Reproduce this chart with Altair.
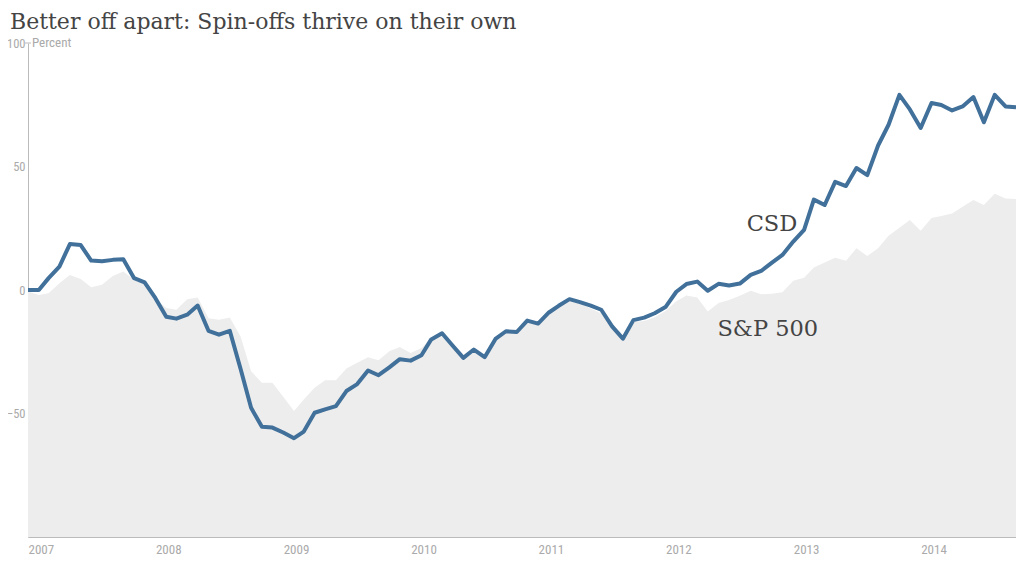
import altair as alt
import pandas as pd

# Monthly cumulative return (%) Jan 2007 - Oct 2014
csd = [0.0, 0.0, 4.8, 9.5, 18.6, 18.2, 11.9, 11.6, 12.2, 12.4, 4.8, 3.1,
       -3.3, -10.8, -11.6, -10.0, -6.3, -16.5, -18.1, -16.5, -32.0, -47.7, -55.4, -55.7,
       -57.7, -60.0, -57.3, -49.7, -48.3, -47.0, -40.9, -38.1, -32.6, -34.5, -31.3, -28.0,
       -28.6, -26.4, -20.0, -17.5, -22.5, -27.5, -24.1, -27.2, -19.8, -16.7, -17.0, -12.4,
       -13.6, -9.1, -6.4, -3.7, -4.9, -6.3, -8.0, -14.7, -19.7, -12.2, -11.2, -9.4,
       -6.9, -0.7, 2.4, 3.4, -0.3, 2.5, 1.8, 2.6, 6.1, 7.7, 11.1, 14.2,
       19.6, 24.3, 36.6, 34.4, 43.8, 42.1, 49.4, 46.5, 58.5, 66.9, 79.0, 73.1,
       65.6, 75.7, 74.9, 72.7, 74.3, 78.1, 67.9, 79.0, 74.3, 74.0]
sp500 = [-0.6, -2.0, -1.3, 2.7, 6.1, 4.5, 1.1, 2.1, 5.7, 7.5, 4.1, 2.7,
         -3.5, -7.3, -8.0, -3.7, -3.0, -11.4, -12.0, -11.1, -18.8, -32.9, -37.6, -37.6,
         -43.2, -49.0, -44.3, -39.6, -36.5, -36.5, -31.8, -29.5, -27.2, -28.4, -24.8, -23.1,
         -25.5, -23.5, -19.5, -17.5, -22.5, -27.0, -23.5, -26.5, -19.5, -16.3, -16.5, -12.0,
         -12.5, -8.5, -6.0, -4.0, -5.5, -7.5, -9.5, -15.5, -20.0, -13.0, -12.5, -11.0,
         -8.5, -4.6, -2.2, -3.0, -8.7, -5.3, -4.0, -2.3, -0.3, -1.7, -1.5, -0.9,
         3.7, 5.0, 9.1, 11.1, 13.1, 11.8, 16.9, 13.8, 16.9, 22.0, 25.2, 28.3,
         24.0, 29.2, 30.0, 31.0, 33.7, 36.4, 34.4, 39.0, 37.0, 36.8]
months = pd.date_range("2007-01-01", periods=len(csd), freq="MS")

y_ticks = [-50, 0, 50, 100]
year_ticks = [f"{y}-01-01" for y in range(2007, 2015)]

ann_labels = ["CSD", "S&P 500"]
ann_dates = ["2012-11-01", "2012-10-20"]
ann_values = [26.8, -15.9]

title_text = "Better off apart: Spin-offs thrive on their own"
unit_text = "Percent"

df = pd.DataFrame({"date": months, "csd": csd, "sp500": sp500})
ann = pd.DataFrame({"label": ann_labels, "date": pd.to_datetime(ann_dates), "value": ann_values})

LABEL_FONT = "Liberation Sans Narrow, Roboto Condensed, Arial Narrow, Roboto, sans-serif"
SERIF = "DejaVu Serif, Georgia, serif"
GREY = "#aaaaaa"

xscale = alt.Scale(domain=["2007-01-01", "2014-10-01"])
yscale = alt.Scale(domain=[-100, 100], nice=False)

x_axis = alt.Axis(values=year_ticks, format="%Y", labelAlign="left", ticks=False,
                  grid=False, domainColor="#bbbbbb", labelColor=GREY,
                  labelFont=LABEL_FONT, labelFontSize=13, labelPadding=6, title=None,
                  labelFlush=False)
y_axis = alt.Axis(values=y_ticks, ticks=False, grid=False, domainColor="#bbbbbb",
                  labelColor=GREY, labelFont=LABEL_FONT, labelFontSize=12.5,
                  labelPadding=3, title=None, labelFlush=False)

base = alt.Chart(df)

area = base.mark_area(color="#ededed").encode(
    x=alt.X("date:T", scale=xscale, axis=x_axis),
    y=alt.Y("sp500:Q", scale=yscale, axis=y_axis),
    y2=alt.datum(-100),
)

line = base.mark_line(color="#41709a", strokeWidth=4, strokeJoin="round").encode(
    x=alt.X("date:T", scale=xscale),
    y=alt.Y("csd:Q", scale=yscale),
)

labels = alt.Chart(ann).mark_text(font=SERIF, fontSize=22.5, color="#444444",
                                  align="center", baseline="middle").encode(
    x=alt.X("date:T", scale=xscale),
    y=alt.Y("value:Q", scale=yscale),
    text="label:N",
)

unit = alt.Chart(pd.DataFrame({"t": [unit_text], "v": [100]})).mark_text(
    font=LABEL_FONT, fontSize=13, color=GREY, align="left", baseline="middle", dx=4
).encode(x=alt.value(0), y=alt.Y("v:Q", scale=yscale), text="t:N")

tick100 = alt.Chart(pd.DataFrame({"v": [100]})).mark_rule(color="#bbbbbb").encode(
    x=alt.value(-3), x2=alt.value(3), y=alt.Y("v:Q", scale=yscale))

title = alt.Chart(pd.DataFrame({"t": [title_text]})).mark_text(
    font=SERIF, fontSize=22, color="#444444", align="left", baseline="alphabetic"
).encode(x=alt.value(-18), y=alt.value(-14.5), text="t:N")

chart = alt.layer(area, line, labels, unit, tick100, title).properties(
    width=988, height=494,
    autosize=alt.AutoSizeParams(type="none"),
    padding={"left": 20, "top": 35, "right": 0, "bottom": 30},
).configure_view(stroke=None)

chart.save("out.html", embed_options={"renderer": "svg", "actions": False})
